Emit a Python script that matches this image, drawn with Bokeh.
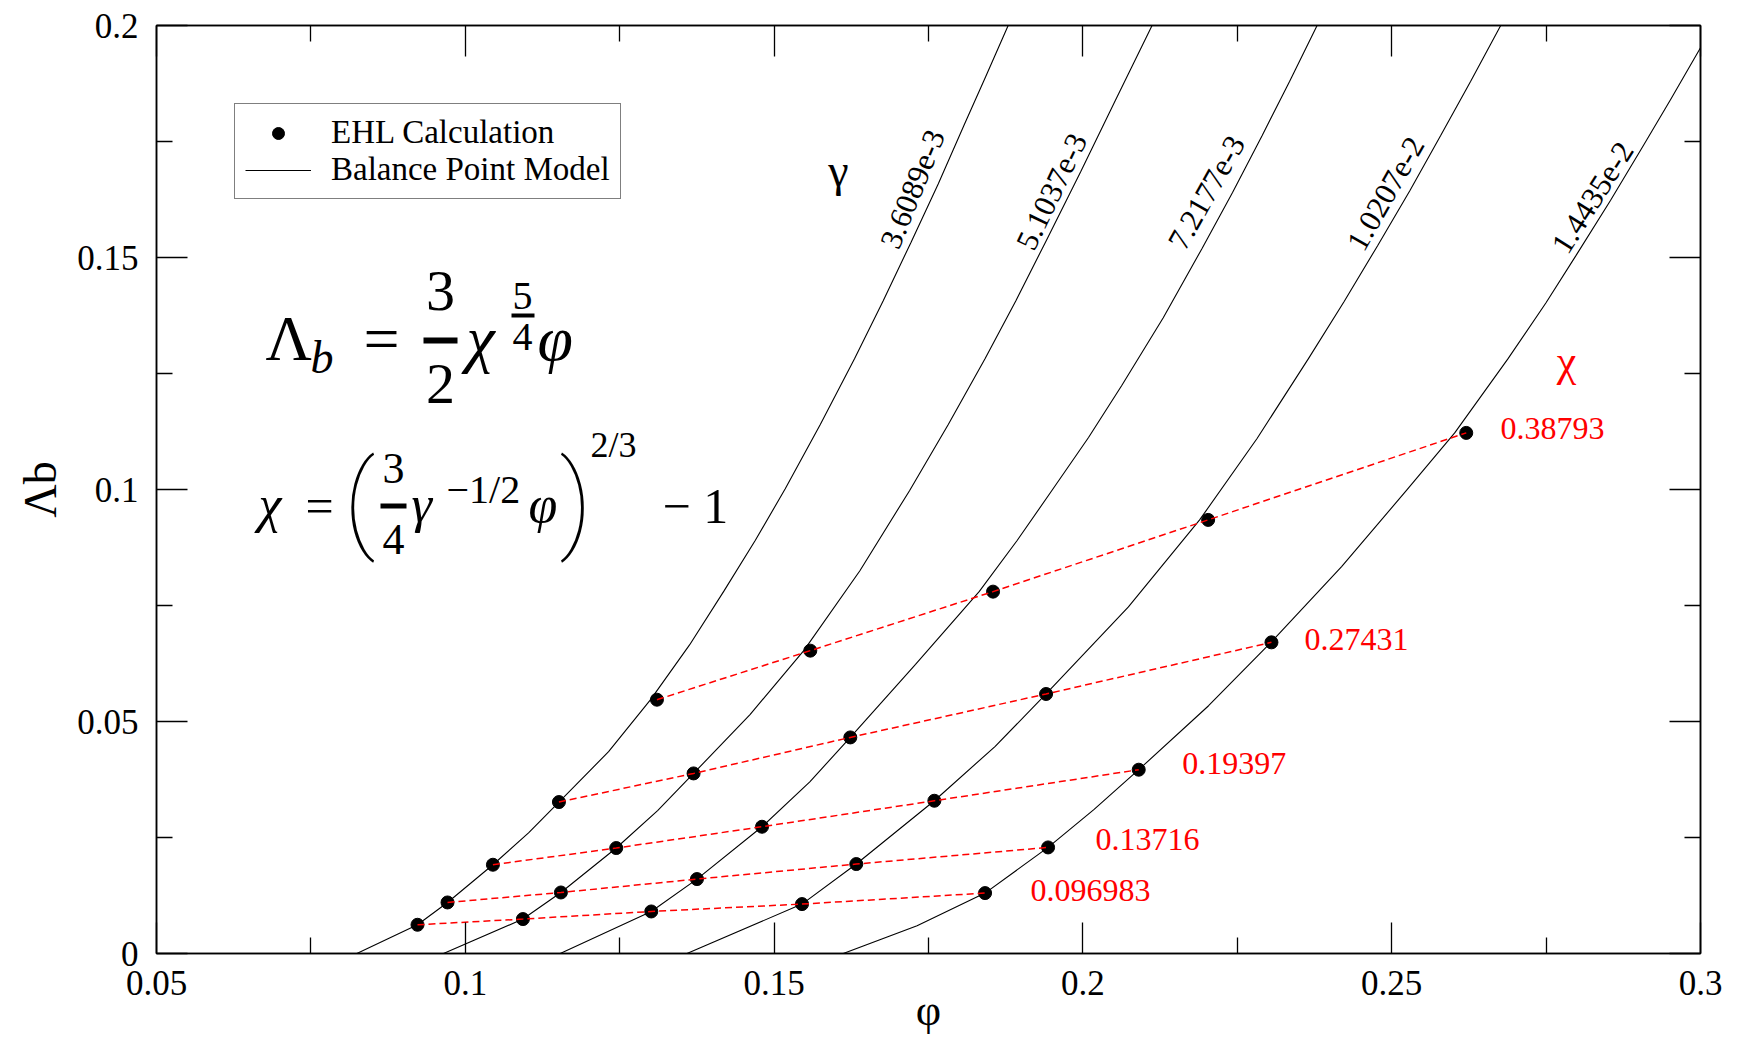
import math
from bokeh.plotting import figure
from bokeh.models import (Range1d, FixedTicker, LinearAxis, Label, Legend,
                          LegendItem, BoxAnnotation, ColumnDataSource)
from bokeh.embed import file_html
from bokeh.resources import INLINE

# ---------------- data ----------------
x_ticks = [0.05, 0.1, 0.15, 0.2, 0.25, 0.3]
x_tick_labels = ["0.05", "0.1", "0.15", "0.2", "0.25", "0.3"]
x_minor_ticks = [0.075, 0.125, 0.175, 0.225, 0.275]
y_ticks = [0.0, 0.05, 0.1, 0.15, 0.2]
y_tick_labels = ["0", "0.05", "0.1", "0.15", "0.2"]
y_minor_ticks = [0.025, 0.075, 0.125, 0.175]

gamma_labels = ["3.6089e-3", "5.1037e-3", "7.2177e-3", "1.0207e-2", "1.4435e-2"]
chi_labels = ["0.096983", "0.13716", "0.19397", "0.27431", "0.38793"]

# Balance Point Model curves (one per gamma)
bpm_phi_g1 = [0.08244, 0.09226, 0.09712, 0.10447, 0.11024, 0.11516, 0.12320, 0.1300, 0.13631,
              0.14192, 0.14694, 0.15178, 0.15748, 0.16302, 0.16767, 0.17218, 0.17659, 0.18075,
              0.18427, 0.18790]
bpm_lam_g1 = [0.0, 0.00619, 0.0110, 0.01913, 0.026, 0.03264, 0.0435, 0.0547, 0.0665,
              0.0782, 0.089, 0.1001, 0.114, 0.1282, 0.1407, 0.1533, 0.1659, 0.1785,
              0.189, 0.2]
bpm_phi_g2 = [0.09647, 0.10933, 0.11548, 0.12444, 0.13114, 0.13696, 0.14610, 0.1548, 0.16389,
              0.17195, 0.17820, 0.18415, 0.18915, 0.19394, 0.19964, 0.20523, 0.2112]
bpm_lam_g2 = [0.0, 0.00742, 0.01315, 0.02273, 0.0308, 0.03881, 0.0515, 0.06527, 0.0825,
              0.0998, 0.114, 0.1282, 0.1407, 0.1533, 0.1685, 0.1838, 0.2]
bpm_phi_g3 = [0.11537, 0.13011, 0.13751, 0.14804, 0.15578, 0.16234, 0.17290, 0.1832, 0.18935,
              0.19509, 0.20091, 0.20629, 0.21301, 0.21927, 0.22423, 0.22903, 0.23348, 0.23792]
bpm_lam_g3 = [0.0, 0.00906, 0.01604, 0.02732, 0.037, 0.04657, 0.0623, 0.07799, 0.089,
              0.1, 0.1112, 0.1224, 0.137, 0.1519, 0.164, 0.1763, 0.188, 0.2]
bpm_phi_g4 = [0.13589, 0.15452, 0.16331, 0.17595, 0.18576, 0.19404, 0.20737, 0.2189, 0.22820,
              0.23652, 0.24225, 0.24774, 0.25298, 0.25793, 0.26279, 0.26765]
bpm_lam_g4 = [0.0, 0.01065, 0.01928, 0.03292, 0.0446, 0.05593, 0.0747, 0.09345, 0.111,
              0.1282, 0.1404, 0.1526, 0.1645, 0.1763, 0.188, 0.2]
bpm_phi_g5 = [0.1612, 0.17315, 0.18416, 0.19436, 0.20177, 0.20904, 0.22035, 0.23045, 0.24189,
              0.25239, 0.2602, 0.26884, 0.27496, 0.27983, 0.28542, 0.29073, 0.29514, 0.3]
bpm_lam_g5 = [0.0, 0.006, 0.01302, 0.02286, 0.031, 0.03961, 0.0534, 0.06706, 0.0834,
              0.0998, 0.1122, 0.1282, 0.1402, 0.1504, 0.1623, 0.1741, 0.184, 0.1952]

# EHL calculation points (one series per chi, ordered by gamma)
ehl_phi_c1 = [0.09226, 0.10933, 0.13011, 0.15452, 0.18416]
ehl_lam_c1 = [0.00619, 0.00742, 0.00906, 0.01065, 0.01302]
ehl_phi_c2 = [0.09712, 0.11548, 0.13751, 0.16331, 0.19436]
ehl_lam_c2 = [0.01100, 0.01315, 0.01604, 0.01928, 0.02286]
ehl_phi_c3 = [0.10447, 0.12444, 0.14804, 0.17595, 0.20904]
ehl_lam_c3 = [0.01913, 0.02273, 0.02732, 0.03292, 0.03961]
ehl_phi_c4 = [0.11516, 0.13696, 0.16234, 0.19404, 0.23053]
ehl_lam_c4 = [0.03264, 0.03881, 0.04657, 0.05593, 0.06706]
ehl_phi_c5 = [0.13103, 0.15586, 0.18545, 0.22028, 0.26207]
ehl_lam_c5 = [0.05470, 0.06527, 0.07799, 0.09345, 0.11220]

bpm_phi = [bpm_phi_g1, bpm_phi_g2, bpm_phi_g3, bpm_phi_g4, bpm_phi_g5]
bpm_lam = [bpm_lam_g1, bpm_lam_g2, bpm_lam_g3, bpm_lam_g4, bpm_lam_g5]
ehl_phi = [ehl_phi_c1, ehl_phi_c2, ehl_phi_c3, ehl_phi_c4, ehl_phi_c5]
ehl_lam = [ehl_lam_c1, ehl_lam_c2, ehl_lam_c3, ehl_lam_c4, ehl_lam_c5]

# ---------------- figure ----------------
FONT = "Liberation Serif"
THIN = "Roboto Thin, Lato Hairline, Liberation Serif"
XMIN, XMAX, YMIN, YMAX = 0.05, 0.3, 0.0, 0.2
W, H = 1740, 1048
FL, FR, FT, FB = 156, 1700, 25, 953   # frame edges on the canvas (px)

p = figure(width=W, height=H,
           x_range=Range1d(XMIN, XMAX), y_range=Range1d(YMIN, YMAX),
           x_axis_type=None, y_axis_type=None,
           output_backend="svg", toolbar_location=None,
           min_border_left=FL, min_border_right=W - FR,
           min_border_top=FT, min_border_bottom=H - FB)
p.outline_line_color = "black"
p.outline_line_width = 1.5
p.background_fill_color = "white"
p.border_fill_color = "white"


def at(px, py):
    """canvas pixel -> data coordinates (for annotation placement)"""
    return (XMIN + (px - FL) / (FR - FL) * (XMAX - XMIN),
            YMIN + (FB - py) / (FB - FT) * (YMAX - YMIN))


def make_axis(side, ticks, minor, labels, standoff):
    ax = LinearAxis(ticker=FixedTicker(ticks=ticks, minor_ticks=minor))
    ax.axis_line_color = "black"
    ax.axis_line_width = 1.5
    ax.major_tick_in = 31
    ax.major_tick_out = 0
    ax.minor_tick_in = 16
    ax.minor_tick_out = 0
    ax.major_tick_line_color = "black"
    ax.minor_tick_line_color = "black"
    ax.major_tick_line_width = 1.3
    ax.minor_tick_line_width = 1.3
    if labels is not None:
        ax.major_label_overrides = {t: l for t, l in zip(ticks, labels)}
        ax.major_label_text_font = FONT
        ax.major_label_text_font_size = "35px"
        ax.major_label_text_color = "black"
        ax.major_label_standoff = standoff
    else:
        # mirrored axis: ticks only, no tick labels drawn
        ax.major_label_text_font_size = "0px"
        ax.major_label_text_color = None
        ax.major_label_standoff = 0
    p.add_layout(ax, side)
    return ax


xax = make_axis("below", x_ticks, x_minor_ticks, x_tick_labels, 17)
yax = make_axis("left", y_ticks, y_minor_ticks, y_tick_labels, 18)
make_axis("above", x_ticks, x_minor_ticks, None, 0)
make_axis("right", y_ticks, y_minor_ticks, None, 0)

xax.axis_label = "φ"
xax.axis_label_text_font = FONT
xax.axis_label_text_font_size = "44px"
xax.axis_label_text_font_style = "normal"
xax.axis_label_text_color = "black"
xax.axis_label_standoff = -12

yax.axis_label = "Λb"
yax.axis_label_text_font = FONT
yax.axis_label_text_font_size = "46px"
yax.axis_label_text_font_style = "normal"
yax.axis_label_text_color = "black"
yax.axis_label_standoff = 8

# model curves
curve_renderers = []
for phi, lam in zip(bpm_phi, bpm_lam):
    curve_renderers.append(p.line(phi, lam, line_color="black", line_width=1.1))

# EHL points
src = ColumnDataSource(dict(phi=[v for s in ehl_phi for v in s],
                            lam=[v for s in ehl_lam for v in s]))
pts = p.scatter("phi", "lam", source=src, marker="circle", size=13,
                fill_color="black", line_color="black")

# constant-chi dashed lines
for phi, lam in zip(ehl_phi, ehl_lam):
    p.line(phi, lam, line_color="red", line_dash="7 4", line_width=1.5)

ASC = 0.3375  # distance (em) from the middle of the text box down to the baseline


def add_text(text, px, base, size, color="black", style="normal", align="left", font=FONT):
    """place text so that its baseline lies at canvas y = base"""
    x, y = at(px, base - ASC * size)
    p.add_layout(Label(x=x, y=y, text=text, text_font=font,
                       text_font_size=f"{size}px", text_color=color,
                       text_font_style=style, text_align=align,
                       text_baseline="middle"))


def add_rot_text(text, cx, cy, size, angle_deg):
    x, y = at(cx, cy)
    p.add_layout(Label(x=x, y=y, text=text, text_font=FONT,
                       text_font_size=f"{size}px", text_color="black",
                       text_align="center", text_baseline="middle",
                       angle=math.radians(angle_deg)))


def add_bar(x0, x1, y0, y1):
    l, b = at(x0, y1)
    r, t = at(x1, y0)
    p.add_layout(BoxAnnotation(left=l, right=r, bottom=b, top=t,
                               fill_color="black", fill_alpha=1.0,
                               line_color=None))


# gamma curve labels (rotated along the curves)
gamma_label_pos = [(912, 188.5, 68), (1051, 191, 64.4), (1206, 192, 60.7),
                   (1385, 193, 60.3), (1592, 197, 57.5)]
for txt, (gx, gy, ang) in zip(gamma_labels, gamma_label_pos):
    add_rot_text(txt, gx, gy, 31, ang)
add_text("γ", 838, 186, 46, align="center")

# chi labels
chi_label_pos = [(1030, 900.7), (1095, 849.3), (1181.7, 773.3), (1304, 650), (1500, 438.3)]
for txt, (cx, cy) in zip(chi_labels, chi_label_pos):
    add_text(txt, cx, cy, 32, color="red")
add_text("χ", 1566, 376, 44, color="red", align="center")

# equation 1:  Λb = 3/2 χ^(5/4) φ
add_text("Λ", 265, 360, 64)
add_text("b", 310, 373, 46, style="italic")
add_text("=", 381, 360, 64, align="center")
add_text("3", 440, 310, 58, align="center")
add_bar(423, 457, 337, 343)
add_text("2", 440, 403, 58, align="center")
add_text("χ", 466, 360, 64, style="italic")
add_text("5", 522, 309, 40, align="center")
add_bar(511, 534, 313, 317)
add_text("4", 522, 350, 40, align="center")
add_text("φ", 537, 360, 64, style="italic")

# equation 2:  χ = (3/4 γ^(-1/2) φ)^(2/3) - 1
add_text("χ", 258, 522, 52, style="italic")
add_text("=", 319, 522, 50, align="center")
add_text("(", 343, 537, 108, font=THIN)
add_text("3", 393, 483, 44, align="center")
add_bar(380, 406, 503, 508)
add_text("4", 393, 554, 44, align="center")
add_text("γ", 411, 522, 52, style="italic")
add_text("−1/2", 446, 502, 40)
add_text("φ", 528, 522, 52, style="italic")
add_text(")", 559, 537, 108, font=THIN)
add_text("2/3", 590, 457, 36)
add_text("− 1", 662, 522, 50)

# legend
legend = Legend(items=[LegendItem(label="EHL Calculation", renderers=[pts]),
                       LegendItem(label="Balance Point Model", renderers=[curve_renderers[0]])],
                location=(78, 754))
legend.label_text_font = FONT
legend.label_text_font_size = "33px"
legend.label_text_color = "black"
legend.border_line_color = "black"
legend.border_line_width = 1.5
legend.background_fill_color = "white"
legend.background_fill_alpha = 1.0
legend.padding = 10
legend.spacing = 0
legend.margin = 0
legend.glyph_width = 66
legend.glyph_height = 30
legend.label_height = 30
legend.label_standoff = 20
p.add_layout(legend)

open("out.html", "w").write(file_html(p, INLINE))
